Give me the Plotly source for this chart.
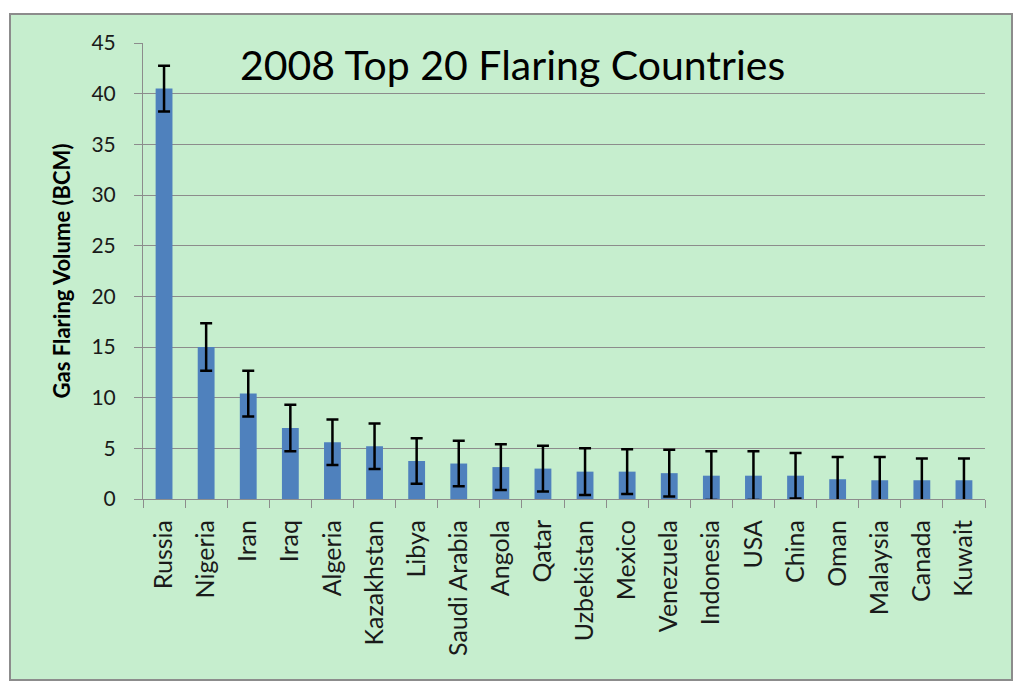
import plotly.graph_objects as go

countries = ["Russia", "Nigeria", "Iran", "Iraq", "Algeria", "Kazakhstan", "Libya",
             "Saudi Arabia", "Angola", "Qatar", "Uzbekistan", "Mexico", "Venezuela",
             "Indonesia", "USA", "China", "Oman", "Malaysia", "Canada", "Kuwait"]
volumes = [40.5, 15.0, 10.4, 7.0, 5.6, 5.2, 3.75, 3.5, 3.15, 3.0, 2.7, 2.7, 2.55,
           2.3, 2.3, 2.3, 1.95, 1.85, 1.85, 1.85]
errors = [2.25, 2.35, 2.25, 2.3, 2.25, 2.25, 2.25, 2.25, 2.25, 2.25, 2.3, 2.2, 2.3,
          2.4, 2.4, 2.25, 2.2, 2.3, 2.15, 2.15]
y_ticks = [0, 5, 10, 15, 20, 25, 30, 35, 40, 45]

# page has an 8px body margin; figure coordinates are screen coordinates minus 8
OFF = 8
W, H = 1024 - 2 * OFF, 689 - 2 * OFF
L, T = 143 - OFF, 43 - OFF
R = W - (985 - OFF)
B = H - (499 - OFF)
pw, ph = W - L - R, H - T - B

fig = go.Figure()
fig.add_trace(go.Bar(
    x=countries, y=volumes,
    marker=dict(color="#4F81BD", line=dict(width=0)),
    error_y=dict(type="data", array=errors, visible=True, color="black",
                 thickness=2.5, width=6),
))

bx0, bx1 = 10 - OFF, 1012 - OFF
by0, by1 = 14 - OFF, min(682 - OFF, H - 1)
fig.add_shape(type="rect", xref="paper", yref="paper",
              x0=(bx0 - L) / pw, x1=(bx1 - L) / pw,
              y0=(H - B - by1) / ph, y1=(H - B - by0) / ph,
              fillcolor="#C6EECE", line=dict(color="#8C8C8C", width=2), layer="below")

fig.update_layout(
    width=W, height=H,
    margin=dict(l=L, r=R, t=T, b=B),
    paper_bgcolor="white", plot_bgcolor="#C6EECE",
    font=dict(family="Lato", color="#000000"),
    bargap=0.6, showlegend=False,
    annotations=[dict(text="2008 Top 20 Flaring Countries", xref="paper", yref="paper",
                      x=0.439, y=0.952, xanchor="center", yanchor="middle",
                      showarrow=False, font=dict(size=41, family="Lato", color="black"))],
)
fig.update_xaxes(
    showgrid=False, showline=True, linecolor="#8C8C8C", linewidth=1,
    ticks="outside", tickson="boundaries", ticklen=8, tickcolor="#8C8C8C",
    tickangle=-90, tickfont=dict(size=25, family="Lato", color="#1a1a1a"),
    ticklabelstandoff=10,
)
fig.update_yaxes(
    range=[0, 45], tickvals=y_ticks, showgrid=True, gridcolor="#8C8C8C", gridwidth=1,
    showline=True, linecolor="#8C8C8C", linewidth=1,
    ticks="outside", ticklen=8, tickcolor="#8C8C8C",
    tickfont=dict(size=21, family="Lato", color="#1a1a1a"), zeroline=False,
    ticklabelstandoff=14,
    title=dict(text="<b>Gas Flaring Volume (BCM)</b>", font=dict(size=22, family="Lato"),
               standoff=14),
)
fig.write_html("out.html")
